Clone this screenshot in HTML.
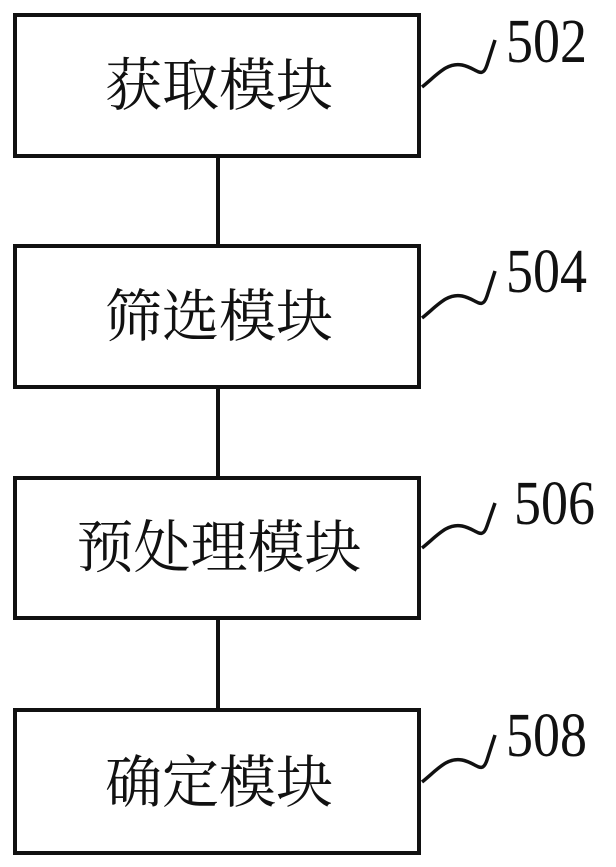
<!DOCTYPE html>
<html><head><meta charset="utf-8"><style>
body{margin:0;background:#fff}
svg{display:block}
.t{font-family:"Noto Serif CJK SC","Liberation Serif",serif;font-size:57px;fill:#111}
.n{font-family:"Liberation Serif","Times New Roman",serif;font-size:54px;fill:#111}
</style></head><body>
<svg width="616" height="867" viewBox="0 0 616 867" xmlns="http://www.w3.org/2000/svg">
<g fill="none" stroke="#111" stroke-width="4">
<rect x="15" y="15" width="404" height="141"/>
<rect x="15" y="246" width="404" height="141"/>
<rect x="15" y="478" width="404" height="140"/>
<rect x="15" y="710" width="404" height="143"/>
<line x1="218" y1="156" x2="218" y2="246"/>
<line x1="218" y1="387" x2="218" y2="478"/>
<line x1="218" y1="618" x2="218" y2="710"/>
<g stroke-width="3.5">
<path d="M422,87 C437,75 447,62 462,65 C477,68 482,80 487,65 L495,40"/>
<path d="M422,318 C437,306 447,293 462,296 C477,299 482,311 487,296 L495,271"/>
<path d="M422,548 C437,536 447,523 462,526 C477,529 482,541 487,526 L495,503"/>
<path d="M422,782 C437,770 447,757 462,760 C477,763 482,775 487,760 L495,735"/>
</g>
</g>
<g text-anchor="middle">
<text class="t" x="219" y="105">获取模块</text>
<text class="t" x="219" y="336">筛选模块</text>
<text class="t" x="219" y="567">预处理模块</text>
<text class="t" x="219" y="802">确定模块</text>
</g>
<text class="n" transform="translate(506,62) scale(1,1.15)">502</text>
<text class="n" transform="translate(506,292) scale(1,1.15)">504</text>
<text class="n" transform="translate(514,524) scale(1,1.15)">506</text>
<text class="n" transform="translate(506,756) scale(1,1.15)">508</text>
</svg>
</body></html>
